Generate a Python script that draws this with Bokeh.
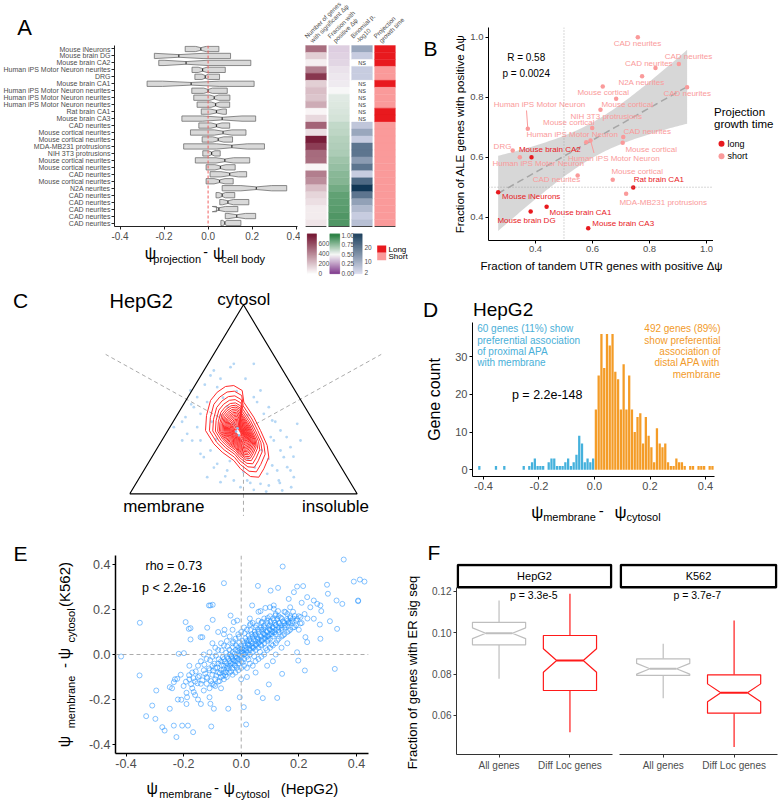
import numpy as np
from bokeh.plotting import figure
from bokeh.models import Range1d, FixedTicker, Span
from bokeh.layouts import row, column
from bokeh.embed import file_html
from bokeh.resources import INLINE
from bokeh.core.properties import value

FONT = "Liberation Sans"
G30 = "#4D4D4D"
LONG_C = "#E8191E"
SHORT_C = "#FA9A9A"

# ---------------- Panel A data ----------------
a_labels = ["Mouse iNeurons", "Mouse brain DG", "Mouse brain CA2", "Human iPS Motor Neuron neurites", "DRG",
            "Mouse brain CA1", "Human iPS Motor Neuron neurites", "Human iPS Motor Neuron neurites",
            "Human iPS Motor Neuron neurites", "Rat brain CA1", "Mouse brain CA3", "CAD neurites",
            "Mouse cortical neurites", "Mouse cortical neurites", "MDA-MB231 protrusions", "NIH 3T3 protrusions",
            "Mouse cortical neurites", "Mouse cortical neurites", "CAD neurites", "Mouse cortical neurites",
            "N2A neurites", "CAD neurites", "CAD neurites", "CAD neurites", "CAD neurites", "CAD neurites"]
a_q1 = [-0.104, -0.244, -0.224, -0.073, -0.060, -0.277, -0.074, -0.065, -0.050, -0.031, -0.119, -0.042, -0.080,
        -0.027, -0.111, -0.024, -0.058, -0.009, 0.009, -0.009, 0.064, 0.036, 0.053, 0.038, 0.078, 0.058]
a_med = [-0.033, -0.133, -0.100, -0.025, -0.013, -0.077, 0.000, 0.028, 0.034, 0.038, 0.064, 0.038, 0.068,
         0.046, 0.108, 0.016, 0.076, 0.056, 0.098, 0.052, 0.219, 0.064, 0.090, 0.049, 0.130, 0.076]
a_q3 = [0.049, 0.102, 0.194, 0.078, 0.052, 0.209, 0.087, 0.099, 0.098, 0.083, 0.216, 0.098, 0.172,
        0.111, 0.256, 0.055, 0.189, 0.123, 0.175, 0.114, 0.357, 0.121, 0.185, 0.135, 0.216, 0.149]
a_notch = [0.025, 0.11, 0.10, 0.02, 0.015, 0.13, 0.02, 0.02, 0.02, 0.03, 0.09, 0.025, 0.04,
           0.025, 0.07, 0.015, 0.04, 0.025, 0.04, 0.025, 0.07, 0.015, 0.025, 0.03, 0.04, 0.01]
a_n_genes = [450, 150, 50, 400, 620, 150, 200, 180, 260, 30, 120, 480, 100, 700, 600, 460, 450, 30, 400,
             350, 200, 130, 100, 60, 60, 80]
a_frac_pos = [0.40, 0.41, 0.42, 0.45, 0.46, 0.47, 0.50, 0.55, 0.56, 0.57, 0.58, 0.62, 0.63, 0.65, 0.66, 0.67,
              0.70, 0.72, 0.75, 0.76, 0.80, 0.84, 0.85, 0.86, 0.88, 0.88]
a_binom = [10, 4, None, 4, 4, None, None, None, None, None, None, 5, 10, 4, 18, 18, 12, 18, 4, 20, 28, 18,
           11, 7, 4, 6]
a_growth = ["long", "long", "long", "short", "short", "long", "short", "short", "short", "long", "long",
            "short", "short", "short", "short", "short", "short", "short", "short", "short", "short",
            "short", "short", "short", "short", "short"]
a_headers = [("Number of genes", "with significant \u0394\u03c8"), ("Fraction with", "positive \u0394\u03c8"),
             ("Binomial p,", "-log10"), ("Projection", "growth time")]

# ---------------- Panel B data ----------------
b_names = ["CAD neurites", "CAD neurites", "CAD neurites", "N2A neurites", "CAD neurites", "Mouse cortical",
           "Mouse cortical", "NIH 3T3 protrusions", "Human iPS Motor Neuron", "Mouse cortical",
           "Human iPS Motor Neuron", "Human iPS Motor Neuron", "CAD neurites", "Mouse cortical", "DRG",
           "Mouse brain CA2", "Human iPS Motor Neuron", "CAD neurites", "Mouse cortical", "Rat brain CA1",
           "MDA-MB231 protrusions", "Mouse iNeurons", "Mouse brain CA1", "Mouse brain DG", "Mouse brain CA3"]
b_x = [0.759, 0.821, 0.903, 0.774, 0.932, 0.636, 0.683, 0.628, 0.373, 0.599, 0.578, 0.593, 0.708, 0.706,
       0.320, 0.386, 0.345, 0.548, 0.671, 0.743, 0.718, 0.269, 0.439, 0.383, 0.585]
b_y = [1.000, 0.897, 0.911, 0.870, 0.833, 0.836, 0.795, 0.758, 0.695, 0.697, 0.650, 0.656, 0.667, 0.648,
       0.622, 0.600, 0.600, 0.539, 0.525, 0.499, 0.478, 0.483, 0.435, 0.419, 0.363]
b_group = ["short"] * 15 + ["long", "short", "short", "short", "long", "short", "long", "long", "long", "long"]
# label anchor positions (reference pixels, layout only)
b_label_pos = [(637, 42.7), (648.3, 62.7), (688, 55.5), (641, 81.7), (686.7, 92.7), (602.7, 91.7),
               (626.7, 104.3), (605.7, 115.7), (539, 104.3), (568.3, 121.7), (571.7, 134.3), (613.3, 157.7),
               (646.7, 131), (650.7, 149), (502, 146), (549.3, 149), (537.7, 163.3), (556, 179), (636.7, 171),
               (658.3, 179.3), (662.7, 202), (530.7, 196), (580, 211.7), (526, 220), (622.7, 223)]

# ---------------- Panel C data (ternary cartesian coords) ----------------
c_pts = [(0.2745, 0.244), (0.2525, 0.2749), (0.355, 0.542), (0.399, 0.527), (0.443, 0.58), (0.509, 0.527),
         (0.5455, 0.5955), (0.5895, 0.3665), (0.6265, 0.3358), (0.6335, 0.2442), (0.663, 0.29),
         (0.6775, 0.1677), (0.707, 0.1067), (0.7215, 0.076), (0.6555, 0.0609), (0.6705, 0.0151),
         (0.6045, 0.0916), (0.575, 0.0458), (0.487, 0.0302), (0.4575, 0.0609), (0.3845, 0.1374),
         (0.3256, 0.1677), (0.311, 0.1832), (0.355, 0.1984), (0.2305, 0.2442), (0.1936, 0.3051),
         (0.311, 0.3665), (0.2965, 0.4425), (0.267, 0.4732), (0.3845, 0.4883), (0.751, 0.2442),
         (0.7365, 0.3207), (0.5455, 0.4425), (0.575, 0.4732), (0.6115, 0.3967), (0.3405, 0.076),
         (0.399, 0.0531), (0.5455, 0.0183), (0.6485, 0.1067), (0.6925, 0.1218), (0.4575, 0.5955),
         (0.3696, 0.5648), (0.2816, 0.3967), (0.245, 0.3509), (0.2965, 0.3051), (0.311, 0.2442),
         (0.4285, 0.1067), (0.5165, 0.0609), (0.6115, 0.038), (0.6265, 0.1296), (0.663, 0.1984),
         (0.707, 0.2135), (0.4725, 0.3051), (0.465, 0.2749), (0.487, 0.2442), (0.4575, 0.3207),
         (0.52, 0.16), (0.55, 0.12), (0.43, 0.40), (0.40, 0.36), (0.36, 0.33), (0.58, 0.20), (0.62, 0.26),
         (0.50, 0.10), (0.44, 0.15), (0.34, 0.42), (0.56, 0.42), (0.61, 0.16), (0.47, 0.47), (0.41, 0.44),
         (0.52, 0.36), (0.38, 0.25), (0.66, 0.05), (0.71, 0.03), (0.60, 0.01), (0.33, 0.50), (0.27, 0.41),
         (0.23, 0.33), (0.69, 0.26), (0.72, 0.17), (0.64, 0.33), (0.53, 0.05), (0.42, 0.08), (0.37, 0.12)]
c_contour = [(0.4575, 0.4960), (0.4945, 0.4732), (0.5015, 0.4196), (0.5455, 0.3509), (0.5750, 0.2900),
             (0.6045, 0.2213), (0.6115, 0.1677), (0.5895, 0.1145), (0.5675, 0.0760), (0.5310, 0.0792),
             (0.4870, 0.1145), (0.4575, 0.1525), (0.4065, 0.1906), (0.3696, 0.2290), (0.3330, 0.2900),
             (0.3374, 0.3587), (0.3550, 0.4274), (0.3845, 0.4654), (0.4210, 0.4915)]
c_levels = [1.0, 0.88, 0.78, 0.70, 0.63, 0.58, 0.54, 0.50, 0.465, 0.43, 0.40, 0.37, 0.34, 0.31, 0.28,
            0.255, 0.23, 0.205, 0.18, 0.155, 0.13, 0.105, 0.08]
c_peak = (0.478, 0.281)

# ---------------- Panel D data ----------------
d_neg_x = [-0.415, -0.355, -0.325, -0.255, -0.235, -0.225, -0.215, -0.205, -0.195, -0.185, -0.165, -0.155,
           -0.145, -0.135, -0.125, -0.115, -0.105, -0.095, -0.085, -0.075, -0.065, -0.055, -0.045, -0.035,
           -0.025, -0.015, -0.005]
d_neg_n = [1, 1, 1, 1, 1, 2, 3, 1, 1, 1, 2, 3, 3, 1, 1, 1, 2, 3, 1, 2, 4, 9, 7, 2, 3, 2, 3]
d_pos_x = [0.005, 0.015, 0.025, 0.035, 0.045, 0.055, 0.065, 0.075, 0.085, 0.095, 0.105, 0.115, 0.125,
           0.135, 0.145, 0.155, 0.165, 0.175, 0.185, 0.195, 0.205, 0.215, 0.225, 0.235, 0.245, 0.255,
           0.265, 0.275, 0.285, 0.295, 0.305, 0.315, 0.325, 0.345, 0.355, 0.375, 0.385, 0.395, 0.415, 0.425]
d_pos_n = [16, 25, 36, 27, 36, 33, 36, 26, 24, 16, 28, 16, 25, 16, 10, 14, 15, 7, 14, 9, 6, 2, 11, 7, 6, 7,
           2, 1, 1, 3, 2, 2, 1, 1, 1, 1, 1, 1, 1, 1]

# ---------------- Panel E data ----------------
e_points = [
    (0.356, 0.422), (0.144, 0.391), (-0.060, 0.317), (0.058, 0.305), (0.128, 0.296), (0.102, 0.284),
    (0.194, 0.302), (0.215, 0.304), (0.298, 0.310), (0.391, 0.324), (0.412, 0.333), (0.428, 0.324),
    (0.406, 0.240), (0.351, 0.225), (0.301, 0.270), (0.165, 0.247), (0.183, 0.277), (0.229, 0.255),
    (0.252, 0.240), (0.264, 0.225), (0.275, 0.218), (0.331, 0.240), (0.038, 0.218), (-0.112, 0.218),
    (-0.099, 0.221), (0.067, 0.193), (0.113, 0.203), (0.128, 0.193), (-0.014, 0.151), (-0.099, 0.154),
    (-0.193, 0.144), (-0.352, 0.141), (-0.182, 0.114), (-0.118, 0.119), (-0.058, 0.110), (0.333, 0.114),
    (0.308, 0.148), (0.275, 0.070), (-0.135, 0.077), (-0.176, 0.067), (-0.417, -0.009), (-0.217, 0.003),
    (-0.199, 0.006), (-0.353, -0.093), (-0.295, -0.160), (-0.309, -0.227), (-0.330, -0.274),
    (-0.298, -0.286), (-0.274, -0.323), (-0.266, -0.338), (-0.234, -0.316), (-0.225, -0.367),
    (-0.205, -0.316), (-0.185, -0.316), (-0.167, -0.345), (-0.104, -0.320), (0.017, -0.311),
    (-0.248, -0.241), (-0.248, -0.145), (-0.234, -0.123), (-0.222, -0.108), (-0.208, -0.201),
    (-0.188, -0.190), (-0.165, -0.167), (-0.107, -0.219), (-0.095, -0.241), (-0.045, -0.241),
    (0.009, -0.234), (-0.005, -0.190), (0.075, -0.194), (0.056, -0.167), (0.096, -0.133), (0.142, -0.086),
    (0.125, -0.193), (0.198, -0.027), (0.221, -0.071), (0.325, -0.064), (0.406, 0.237), (0.273, 0.133),
    (0.223, 0.077), (0.229, 0.055), (0.194, 0.010), (-0.141, 0.077), (-0.176, 0.117), (-0.107, 0.218),
    (-0.037, 0.173), (0.084, 0.207), (0.113, 0.218), (-0.026, 0.144), (0.032, 0.136), (0.165, 0.144),
    (0.119, 0.173), (0.154, 0.188), (0.206, 0.166), (0.252, 0.159), (0.278, 0.193),
    (-0.20, -0.14), (-0.19, -0.17), (-0.18, -0.11), (-0.17, -0.15), (-0.17, -0.08), (-0.16, -0.12),
    (-0.16, -0.18), (-0.15, -0.10), (-0.15, -0.05), (-0.14, -0.13), (-0.14, -0.03), (-0.13, -0.07),
    (-0.13, -0.16), (-0.12, -0.02), (-0.12, -0.13), (-0.11, 0.01), (-0.11, -0.15), (-0.10, -0.01),
    (-0.10, -0.13), (-0.09, 0.03), (-0.09, -0.14), (-0.08, 0.02), (-0.08, -0.12), (-0.07, 0.05),
    (-0.06, 0.04), (-0.06, -0.11), (-0.05, 0.06), (-0.05, -0.10), (-0.04, 0.08), (-0.03, 0.05),
    (-0.03, -0.09), (-0.02, 0.07), (-0.02, -0.08), (-0.01, 0.09), (-0.01, -0.07), (0.00, 0.10),
    (0.00, -0.06), (0.01, 0.12), (0.01, -0.05), (0.02, 0.11), (0.02, -0.06), (0.03, 0.13), (0.03, -0.04),
    (0.04, 0.14), (0.04, -0.05), (0.05, 0.12), (0.05, -0.03), (0.06, 0.15), (0.06, -0.02), (0.07, 0.14),
    (0.07, -0.01), (0.08, 0.16), (0.08, 0.00), (0.09, 0.15), (0.09, 0.02), (0.10, 0.17), (0.10, 0.03),
    (0.11, 0.16), (0.11, 0.04), (0.12, 0.18), (0.12, 0.05), (0.13, 0.17), (0.13, 0.07), (0.14, 0.16),
    (0.14, 0.08), (0.15, 0.19), (0.15, 0.09), (0.16, 0.18), (0.16, 0.10), (0.17, 0.17), (0.17, 0.11),
    (0.18, 0.19), (0.19, 0.15), (0.19, 0.13), (0.20, 0.17), (0.21, 0.14), (0.22, 0.18), (0.23, 0.16),
    (-0.21, -0.09), (-0.22, -0.20), (-0.19, -0.22), (-0.18, -0.05), (-0.15, -0.20), (-0.13, 0.00),
    (-0.10, 0.05), (-0.07, -0.15), (0.02, -0.10), (0.05, -0.08), (0.09, -0.05), (0.12, 0.00), (0.14, 0.03),
    (-0.06, 0.09), (-0.03, 0.11), (0.03, 0.16), (0.06, 0.19), (0.10, 0.21), (0.20, 0.11), (0.24, 0.21),
    (0.21, 0.23), (-0.24, -0.15), (-0.23, -0.11), (0.11, -0.03), (0.16, 0.05), (-0.08, 0.10),
    (-0.14, -0.22), (-0.11, -0.19), (0.00, -0.11), (0.17, 0.21),
    (-0.12, -0.10), (-0.11, -0.07), (-0.10, -0.09), (-0.10, -0.05), (-0.09, -0.11), (-0.09, -0.06),
    (-0.08, -0.04), (-0.08, -0.08), (-0.07, -0.03), (-0.07, -0.07), (-0.07, -0.10), (-0.06, -0.05),
    (-0.06, -0.02), (-0.06, -0.08), (-0.05, -0.04), (-0.05, -0.01), (-0.05, -0.06), (-0.04, -0.03),
    (-0.04, 0.00), (-0.04, -0.05), (-0.04, -0.08), (-0.03, -0.02), (-0.03, 0.01), (-0.03, -0.04),
    (-0.03, -0.06), (-0.02, -0.01), (-0.02, 0.02), (-0.02, -0.03), (-0.02, -0.05), (-0.01, 0.00),
    (-0.01, 0.03), (-0.01, -0.02), (-0.01, -0.04), (0.00, 0.01), (0.00, 0.04), (0.00, -0.01),
    (0.00, -0.03), (0.01, 0.02), (0.01, 0.05), (0.01, 0.00), (0.01, -0.02), (0.02, 0.03), (0.02, 0.01),
    (0.02, 0.06), (0.02, -0.01), (0.03, 0.04), (0.03, 0.02), (0.03, 0.07), (0.03, 0.00), (0.04, 0.05),
    (0.04, 0.03), (0.04, 0.08), (0.04, 0.01), (0.05, 0.06), (0.05, 0.04), (0.05, 0.09), (0.05, 0.02),
    (0.06, 0.07), (0.06, 0.05), (0.06, 0.10), (0.06, 0.03), (0.07, 0.08), (0.07, 0.06), (0.07, 0.11),
    (0.07, 0.04), (0.08, 0.09), (0.08, 0.07), (0.08, 0.12), (0.08, 0.05), (0.09, 0.10), (0.09, 0.08),
    (0.09, 0.06), (0.10, 0.11), (0.10, 0.09), (0.10, 0.13), (0.10, 0.07), (0.11, 0.10), (0.11, 0.12),
    (0.11, 0.08), (0.12, 0.11), (0.12, 0.13), (0.12, 0.09), (0.13, 0.12), (0.13, 0.14), (0.13, 0.10),
    (0.14, 0.13), (0.14, 0.11), (0.15, 0.14), (0.15, 0.12), (0.16, 0.13), (0.16, 0.15), (0.17, 0.14),
    (0.18, 0.16), (0.18, 0.12),
    (-0.135, -0.115), (-0.125, -0.085), (-0.118, -0.105), (-0.112, -0.062), (-0.105, -0.118),
    (-0.098, -0.072), (-0.093, -0.041), (-0.087, -0.094), (-0.083, -0.058), (-0.078, -0.021),
    (-0.074, -0.083), (-0.069, -0.046), (-0.064, -0.012), (-0.061, -0.067), (-0.057, -0.031),
    (-0.052, 0.008), (-0.048, -0.052), (-0.045, -0.018), (-0.041, 0.021), (-0.037, -0.039),
    (-0.034, -0.007), (-0.029, 0.032), (-0.026, -0.026), (-0.022, 0.004), (-0.018, 0.041),
    (-0.015, -0.015), (-0.011, 0.016), (-0.007, 0.052), (-0.004, -0.004), (0.002, 0.027), (0.005, 0.061),
    (0.008, 0.008), (0.012, 0.038), (0.015, 0.072), (0.018, 0.019), (0.022, 0.048), (0.026, 0.084),
    (0.029, 0.027), (0.033, 0.058), (0.036, 0.091), (0.039, 0.036), (0.043, 0.067), (0.047, 0.102),
    (0.051, 0.045), (0.054, 0.077), (0.058, 0.112), (0.062, 0.055), (0.065, 0.086), (0.069, 0.121),
    (0.072, 0.064), (0.076, 0.095), (0.079, 0.128), (0.083, 0.073), (0.087, 0.104), (0.091, 0.138),
    (0.094, 0.082), (0.098, 0.113), (0.102, 0.146), (0.106, 0.091), (0.109, 0.122), (0.113, 0.152),
    (0.117, 0.099), (0.121, 0.131), (0.125, 0.158), (0.129, 0.108), (0.133, 0.139), (0.137, 0.164),
    (0.141, 0.118), (0.145, 0.147), (0.152, 0.129), (0.158, 0.157), (0.164, 0.139), (0.171, 0.162),
    (0.178, 0.148), (0.186, 0.171), (0.194, 0.158), (-0.145, -0.095), (-0.152, -0.128), (-0.158, -0.075),
    (-0.166, -0.105), (-0.174, -0.132), (-0.181, -0.092), (-0.192, -0.121), (-0.128, -0.045),
    (-0.108, -0.025), (-0.088, -0.005), (-0.068, 0.018), (-0.048, 0.035), (-0.028, 0.058), (-0.008, 0.078),
    (0.012, 0.095), (0.032, 0.108), (0.052, 0.128), (0.072, 0.145), (0.092, 0.162), (-0.095, -0.135),
    (-0.075, -0.118), (-0.055, -0.092), (-0.035, -0.075), (-0.015, -0.058), (0.005, -0.035),
    (0.025, -0.022), (0.045, -0.008), (0.065, 0.012), (0.085, 0.028), (0.105, 0.045), (0.125, 0.062),
    (0.145, 0.085), (0.165, 0.105), (0.185, 0.122), (0.205, 0.138), (0.003, 0.012), (0.013, 0.003),
    (0.023, 0.043), (0.043, 0.031), (0.057, 0.065), (0.067, 0.043), (0.083, 0.087), (0.093, 0.066),
    (0.107, 0.104), (-0.013, -0.028), (-0.023, -0.048), (-0.043, -0.063), (-0.053, -0.078),
    (-0.063, -0.095), (-0.033, -0.012), (-0.003, 0.024), (0.027, 0.062), (0.047, 0.088), (0.077, 0.112),
    (0.097, 0.126), (0.117, 0.141)]

# ---------------- Panel F data ----------------
f_cats = ["All genes", "Diff Loc genes"]
f_hep = dict(lower=[0.0778, 0.0519], q1=[0.0942, 0.0721], med=[0.0998, 0.0866], q3=[0.1051, 0.0987],
             upper=[0.1156, 0.1189], notch=[0.0026, 0.0057])
f_k562 = dict(lower=[0.0684, 0.0447], q1=[0.0794, 0.0611], med=[0.0826, 0.0710], q3=[0.0874, 0.0797],
              upper=[0.0947, 0.1060], notch=[0.0026, 0.0043])
f_colors = ["#BEBEBE", "#FF1A1A"]


# ---------------- helpers ----------------
def no_align(p):
    try:
        p.frame_align = False
    except Exception:
        pass


def make_fig(w, h, xr, yr, bl, br, bt, bb, axes=True):
    kw = {}
    if not axes:
        kw = dict(x_axis_location=None, y_axis_location=None)
    p = figure(width=w, height=h, x_range=Range1d(*xr), y_range=Range1d(*yr), output_backend="svg",
               toolbar_location=None, min_border_left=bl, min_border_right=br, min_border_top=bt,
               min_border_bottom=bb, **kw)
    p.outline_line_color = None
    p.grid.visible = False
    no_align(p)
    return p


def text_fig(X0, Y0, X1, Y1):
    # a text-only panel whose ranges follow the page layout (y grows downward)
    return make_fig(X1 - X0, Y1 - Y0, (X0, X1), (Y1, Y0), 0, 0, 0, 0, axes=False)


def conv(fr, xr, yr):
    fx0, fy0, fx1, fy1 = fr
    def f(X, Y):
        return (xr[0] + (X - fx0) * (xr[1] - xr[0]) / (fx1 - fx0),
                yr[1] - (Y - fy0) * (yr[1] - yr[0]) / (fy1 - fy0))
    return f


def tx(p, x, y, text, size, color="black", align="center", baseline="middle", angle=0.0, font=FONT):
    p.text(x=[x], y=[y], text=[text], text_font=value(font), text_font_size=value(f"{size}px"),
           text_color=color, text_align=align, text_baseline=baseline, angle=angle)


def style_axis(ax, size, ticks, labels=None, line="black", lw=1.0):
    ax.ticker = FixedTicker(ticks=ticks)
    ax.axis_line_color = line
    ax.axis_line_width = lw
    ax.major_tick_line_color = line
    ax.major_tick_in = 0
    ax.major_tick_out = 3
    ax.minor_tick_line_color = None
    ax.major_label_text_font = FONT
    ax.major_label_text_font_size = f"{size}px"
    ax.major_label_text_color = G30
    ax.major_label_standoff = 2
    ax.axis_label_text_font = FONT
    ax.axis_label_text_font_style = "normal"
    ax.axis_label_text_color = "black"
    if labels is not None:
        ax.major_label_overrides = {t: l for t, l in zip(ticks, labels)}


def hex2rgb(h):
    return tuple(int(h[i:i + 2], 16) for i in (1, 3, 5))


def mix(c1, c2, t):
    a, b = hex2rgb(c1), hex2rgb(c2)
    t = min(max(t, 0.0), 1.0)
    return "#%02x%02x%02x" % tuple(int(round(a[i] + (b[i] - a[i]) * t)) for i in range(3))


def col_num(v):
    return mix("#FFFFFF", "#67001F", v / 790.0)


def col_frac(v):
    if v >= 0.5:
        return mix("#F7F7F7", "#1B7837", (v - 0.5) / 0.5)
    return mix("#F7F7F7", "#762A83", (0.5 - v) / 0.5)


def col_binom(v):
    if v is None:
        return "#FFFFFF"
    return mix("#DCDDEF", "#08304F", (v - 1.3) / (29.2 - 1.3))


def tick_lbl(ts):
    return [("%.1f" % t) for t in ts]


# ================= Panel A =================
fA_top = text_fig(0, 0, 300, 45)
tx(fA_top, 24, 27, "A", 22)

xrA, yrA = (-0.425, 0.406), (0.5, 26.5)
fA = make_fig(300, 197, xrA, yrA, 110, 3, 0, 16)
style_axis(fA.xaxis[0], 10, [-0.4, -0.2, 0.0, 0.2, 0.4], tick_lbl([-0.4, -0.2, 0.0, 0.2, 0.4]), line="#222222")
rows_y = [26 - i for i in range(26)]
style_axis(fA.yaxis[0], 7, rows_y, a_labels, line="#222222")
fA.yaxis[0].major_label_standoff = 1
fA.add_layout(Span(location=0, dimension="height", line_color="#F06060", line_dash="3 2", line_width=1))
hh = 0.38
bxs, bys = [], []
for q1, md, q3, n, y in zip(a_q1, a_med, a_q3, a_notch, rows_y):
    bxs.append([q1, md - n, md, md + n, q3, q3, md + n, md, md - n, q1])
    bys.append([y + hh, y + hh, y + hh / 2, y + hh, y + hh, y - hh, y - hh, y - hh / 2, y - hh, y - hh])
fA.patches(bxs, bys, fill_color="#D9D9D9", line_color="#6E6E6E", line_width=0.8)
fA.segment(x0=a_med, y0=[y - hh / 2 for y in rows_y], x1=a_med, y1=[y + hh / 2 for y in rows_y],
           line_color="#333333", line_width=1.2)

fA_bot = text_fig(0, 242, 300, 283)
tx(fA_bot, 150, 252.5, "\u03c8", 16)
tx(fA_bot, 176.7, 258, "projection", 11)
tx(fA_bot, 205, 251.5, "-", 14)
tx(fA_bot, 218.3, 252.5, "\u03c8", 16)
tx(fA_bot, 242.8, 258, "cell body", 11)

# ================= Panel A: heatmap + legends =================
xrH, yrH = (-4 / 23, 146 / 23), (-7.6878, 32.9641)
frH = (300, 0, 450, 283)
fH = make_fig(150, 283, xrH, yrH, 0, 0, 0, 0, axes=False)
cvH = conv(frH, xrH, yrH)
cols_x, cols_y, cols_c = [], [], []
for i in range(26):
    y = rows_y[i]
    vals = [col_num(a_n_genes[i]), col_frac(a_frac_pos[i]), col_binom(a_binom[i]),
            LONG_C if a_growth[i] == "long" else SHORT_C]
    for c in range(4):
        cols_x.append(c + 0.5)
        cols_y.append(y)
        cols_c.append(vals[c])
fH.rect(x=cols_x, y=cols_y, width=0.9, height=1.0, fill_color=cols_c, line_color=cols_c, line_width=0.4)
fH.segment(x0=[c + 0.05 for c in range(4)], y0=[0.5] * 4, x1=[c + 0.95 for c in range(4)], y1=[0.5] * 4,
           line_color="#444444", line_width=1)
ns_y = [rows_y[i] for i in range(26) if a_binom[i] is None]
fH.text(x=[2.5] * len(ns_y), y=ns_y, text=["NS"] * len(ns_y), text_font=value(FONT),
        text_font_size=value("5.5px"), text_color="#333333", text_align="center", text_baseline="middle")
for c, (l1, l2) in enumerate(a_headers):
    cx = 315.5 + 23 * c
    tx(fH, *cvH(cx - 8, 39), l1, 6.3, G30, "left", "bottom", np.pi / 4)
    tx(fH, *cvH(cx - 2.5, 43.5), l2, 6.3, G30, "left", "bottom", np.pi / 4)


def colorbar(X0, X1, Ytop, Ybot, cfun):
    n = 40
    l, r, t, b, cs = [], [], [], [], []
    for k in range(n):
        Ya = Ybot - (Ybot - Ytop) * k / n
        Yb = Ybot - (Ybot - Ytop) * (k + 1) / n
        xa, ya = cvH(X0, Ya)
        xb, yb = cvH(X1, Yb)
        l.append(xa); r.append(xb); b.append(ya); t.append(yb)
        cs.append(cfun((Ya + Yb) / 2))
    fH.quad(left=l, right=r, bottom=b, top=t, fill_color=cs, line_color=cs, line_width=0.3)


colorbar(306.7, 316, 233.3, 273.3, lambda Y: col_num((273.3 - Y) * 20))
colorbar(329.3, 339.3, 233.3, 273.3, lambda Y: col_frac((272.7 - Y) / 37.7))
colorbar(352.7, 361.7, 233.3, 273.3, lambda Y: col_binom(2 + (272.3 - Y) / 1.433))
for t, Y in zip(["600", "400", "200", "0"], [242.7, 252.7, 263, 273]):
    tx(fH, *cvH(318, Y), t, 6.5, G30, "left")
for t, Y in zip(["1.00", "0.75", "0.50", "0.25", "0.00"], [235, 244.4, 253.9, 263.3, 272.7]):
    tx(fH, *cvH(341, Y), t, 6.5, G30, "left")
for t, Y in zip(["20", "10", "2"], [246.7, 261, 272.3]):
    tx(fH, *cvH(364, Y), t, 6.5, G30, "left")
qa = cvH(376.7, 245); qb = cvH(385.7, 252.3); qc = cvH(385.7, 259.7)
fH.quad(left=[qa[0], qa[0]], right=[qb[0], qb[0]], top=[qa[1], qb[1]], bottom=[qb[1], qc[1]],
        fill_color=[LONG_C, SHORT_C], line_color=None)
tx(fH, *cvH(388, 248.7), "Long", 8, "black", "left")
tx(fH, *cvH(388, 256), "Short", 8, "black", "left")
tx(fH, *cvH(430, 48), "B", 21)

# ================= Panel B =================
xrB, yrB = (0.2351, 1.0246), (0.3223, 1.0323)
frB = (488, 27, 713, 240)
fB = make_fig(263, 257, xrB, yrB, 38, 0, 27, 17)
cvB = conv(frB, xrB, yrB)
style_axis(fB.xaxis[0], 9.5, [0.4, 0.6, 0.8, 1.0], tick_lbl([0.4, 0.6, 0.8, 1.0]))
style_axis(fB.yaxis[0], 9.5, [0.4, 0.6, 0.8, 1.0], tick_lbl([0.4, 0.6, 0.8, 1.0]))
fB.yaxis[0].axis_label = "Fraction of ALE genes with positive \u0394\u03c8"
fB.yaxis[0].axis_label_text_font_size = "11.5px"
fB.yaxis[0].axis_label_standoff = 1
bx = np.array(b_x); by = np.array(b_y)
n = len(bx)
slope, icpt = np.polyfit(bx, by, 1)
res = by - (slope * bx + icpt)
s = np.sqrt(np.sum(res ** 2) / (n - 2))
xm = bx.mean(); sxx = np.sum((bx - xm) ** 2)
gx = np.linspace(bx.min(), bx.max(), 80)
gy = slope * gx + icpt
se = s * np.sqrt(1.0 / n + (gx - xm) ** 2 / sxx)
tcrit = 2.069
fB.varea(x=gx, y1=gy - tcrit * se, y2=gy + tcrit * se, fill_color="#BDBDBD", fill_alpha=0.6)
fB.line(gx, gy, line_color="#A6A6A6", line_dash="7 4", line_width=1.5)
fB.add_layout(Span(location=0.5, dimension="height", line_color="#9A9A9A", line_dash="1 2", line_width=0.8))
fB.add_layout(Span(location=0.5, dimension="width", line_color="#9A9A9A", line_dash="1 2", line_width=0.8))
bcol = [LONG_C if g == "long" else SHORT_C for g in b_group]
fB.scatter(b_x, b_y, size=4.5, fill_color=bcol, line_color=None)
lpx, lpy = [], []
for X, Y in b_label_pos:
    x, y = cvB(X, Y)
    lpx.append(x); lpy.append(y)
fB.text(x=lpx, y=lpy, text=b_names, text_color=bcol, text_font=value(FONT), text_font_size=value("8px"),
        text_align="center", text_baseline="middle")
for i, (X, Y) in [(8, (526, 110)), (11, (593.5, 152.5))]:
    x1, y1 = cvB(X, Y)
    fB.segment(x0=[b_x[i]], y0=[b_y[i]], x1=[x1], y1=[y1], line_color=SHORT_C, line_width=1)
tx(fB, *cvB(525.7, 57.3), "R = 0.58", 10)
tx(fB, *cvB(525.7, 72.7), "p = 0.0024", 10)

fB_leg = text_fig(713, 0, 778, 257)
tx(fB_leg, 713.5, 111.7, "Projection", 11.5, "black", "left")
tx(fB_leg, 713.5, 123.3, "growth time", 11.5, "black", "left")
fB_leg.scatter([721, 721], [143.3, 155.7], size=6, fill_color=[LONG_C, SHORT_C], line_color=None)
tx(fB_leg, 727, 143.3, "long", 9, "black", "left")
tx(fB_leg, 727, 155.7, "short", 9, "black", "left")

fB_bot = text_fig(450, 257, 778, 283)
tx(fB_bot, 601, 265, "Fraction of tandem UTR genes with positive \u0394\u03c8", 11.5)

# ================= Panel C =================
xrC, yrC = (-0.5689, 1.1469), (-0.2139, 0.9634)
frC = (0, 283, 390, 540)
fC = make_fig(390, 257, xrC, yrC, 0, 0, 0, 0, axes=False)
cvC = conv(frC, xrC, yrC)
H3 = 0.866
cen = (0.5, H3 / 3)
for dx, dy, t in [(-0.866, 0.5, 0.7), (0.866, 0.5, 0.7), (0.0, -1.0, 0.39)]:
    fC.line([cen[0], cen[0] + dx * t], [cen[1], cen[1] + dy * t], line_color="#ABABAB", line_dash="4 3",
            line_width=1)
fC.scatter([p[0] for p in c_pts], [p[1] for p in c_pts], size=2.8, fill_color="#9CC9F2", line_color=None,
           fill_alpha=0.75)
cu = [p[0] for p in c_contour] + [c_contour[0][0]]
cvv = [p[1] for p in c_contour] + [c_contour[0][1]]
mxs, mys = [], []
for s_ in c_levels:
    mxs.append([c_peak[0] + (u - c_peak[0]) * s_ for u in cu])
    mys.append([c_peak[1] + (v - c_peak[1]) * s_ for v in cvv])
fC.multi_line(mxs, mys, line_color="#FF2A2A", line_width=1)
fC.scatter([0.474, 0.468, 0.480], [0.300, 0.285, 0.268], size=2.5, fill_color="#8EC3F0", line_color=None)
fC.line([0, 1, 0.5, 0], [0, 0, H3, 0], line_color="black", line_width=1.2)
tx(fC, *cvC(243.3, 299), "cytosol", 17)
tx(fC, *cvC(163.3, 506), "membrane", 17)
tx(fC, *cvC(335, 506), "insoluble", 17)
tx(fC, *cvC(140.7, 300), "HepG2", 20)
tx(fC, *cvC(20, 300), "C", 21)

# ================= Panel D =================
fD_top = text_fig(390, 283, 778, 322)
tx(fD_top, 430, 309, "D", 21)
tx(fD_top, 472.5, 309, "HepG2", 19, "black", "left")

xrD, yrD = (-0.4396, 0.6630), (-1.777, 39.07)
frD = (472, 322, 778, 476)
fD = make_fig(388, 178, xrD, yrD, 82, 0, 0, 24)
cvD = conv(frD, xrD, yrD)
dt = [-0.4, -0.2, 0.0, 0.2, 0.4]
style_axis(fD.xaxis[0], 11, dt, tick_lbl(dt))
fD.xaxis[0].bounds = (-0.4396, 0.4324)
style_axis(fD.yaxis[0], 11, [0, 10, 20, 30], ["0", "10", "20", "30"])
fD.yaxis[0].axis_label = "Gene count"
fD.yaxis[0].axis_label_text_font_size = "16px"
fD.yaxis[0].axis_label_standoff = 9
fD.vbar(x=d_neg_x, top=d_neg_n, bottom=0, width=0.0082, fill_color="#45B1DC", line_color=None)
fD.vbar(x=d_pos_x, top=d_pos_n, bottom=0, width=0.0082, fill_color="#F49C27", line_color=None)
for t, Y in zip(["60 genes (11%) show", "preferential association", "of proximal APA", "with membrane"],
                [328.3, 339.7, 351, 362.3]):
    tx(fD, *cvD(476.7, Y), t, 10, "#4AAFD8", "left")
for t, Y in zip(["492 genes (89%)", "show preferential", "association of", "distal APA with", "membrane"],
                [328.3, 339.7, 351, 362.3, 373.7]):
    tx(fD, *cvD(720, Y), t, 10, "#F29A2A", "right")
tx(fD, *cvD(546.7, 394.3), "p = 2.2e-148", 12.5)

fD_bot = text_fig(390, 500, 778, 540)
tx(fD_bot, 536.7, 512, "\u03c8", 17)
tx(fD_bot, 569, 516.5, "membrane", 11)
tx(fD_bot, 600.7, 510.5, "-", 15)
tx(fD_bot, 620, 512, "\u03c8", 17)
tx(fD_bot, 643, 516.5, "cytosol", 11)

# ================= Panel E =================
fE_left = text_fig(0, 540, 80, 801)
tx(fE_left, 20, 553, "E", 21)
for X, Y, t, sz in [(64, 741, "\u03c8", 16), (70.5, 701.5, "membrane", 11), (64, 665, "-", 15),
                    (64, 653, "\u03c8", 16), (70.5, 625, "cytosol", 11), (64, 584, "(K562)", 15)]:
    tx(fE_left, X, Y, t, sz, angle=np.pi / 2)

xrE, yrE = (-0.4365, 0.4420), (-0.44, 0.44)
frE = (115, 555, 368, 753)
fE = make_fig(310, 238, xrE, yrE, 35, 22, 15, 25)
cvE = conv(frE, xrE, yrE)
style_axis(fE.xaxis[0], 12.5, dt, tick_lbl(dt), lw=1.5)
style_axis(fE.yaxis[0], 12.5, dt, tick_lbl(dt), lw=1.5)
fE.add_layout(Span(location=0, dimension="height", line_color="#ABABAB", line_dash="4 3", line_width=1))
fE.add_layout(Span(location=0, dimension="width", line_color="#ABABAB", line_dash="4 3", line_width=1))
fE.scatter([p[0] for p in e_points], [p[1] for p in e_points], size=5, fill_color=None,
           line_color="#1E90FF", line_alpha=0.6, line_width=0.9)
tx(fE, *cvE(173.3, 565), "rho = 0.73", 12.5)
tx(fE, *cvE(173.3, 587), "p < 2.2e-16", 12.5)

fE_bot = text_fig(80, 778, 390, 801)
for X, Y, t, sz in [(151.7, 788, "\u03c8", 16), (185, 793, "membrane", 11), (216, 787.5, "-", 15),
                    (228.7, 788, "\u03c8", 16), (252, 793, "cytosol", 11), (309, 788, "(HepG2)", 15)]:
    tx(fE_bot, X, Y, t, sz)

# ================= Panel F =================
fF_top = text_fig(390, 540, 778, 563)
tx(fF_top, 433.3, 552, "F", 21)
fF_ylab = text_fig(390, 563, 425, 801)
tx(fF_ylab, 412, 672, "Fraction of genes with ER sig seq", 13, angle=np.pi / 2)


def facet(w, bl, br, fr, xr, data, strip_text, ptext, pX, show_y):
    yr = (0.04113, 0.13354)
    f = make_fig(w, 238, xr, yr, bl, br, 0, 47)
    cv = conv(fr, xr, yr)
    style_axis(f.xaxis[0], 10, [1, 2], f_cats, line="#333333")
    if show_y:
        style_axis(f.yaxis[0], 10, [0.06, 0.08, 0.10, 0.12], ["0.06", "0.08", "0.10", "0.12"], line="#333333")
        f.yaxis[0].bounds = (0.04113, 0.1221)
    else:
        f.yaxis[0].visible = False
    hw = 0.375
    for k in range(2):
        c = k + 1
        q1, md, q3, nn = data["q1"][k], data["med"][k], data["q3"][k], data["notch"][k]
        col = f_colors[k]
        f.segment(x0=[c, c], y0=[q3, data["lower"][k]], x1=[c, c], y1=[data["upper"][k], q1],
                  line_color=col, line_width=1.2)
        f.patch([c - hw, c - hw, c - hw / 2, c - hw, c - hw, c + hw, c + hw, c + hw / 2, c + hw, c + hw],
                [q1, md - nn, md, md + nn, q3, q3, md + nn, md, md - nn, q1],
                fill_color="white", line_color=col, line_width=1.2)
        f.segment(x0=[c - hw / 2], y0=[md], x1=[c + hw / 2], y1=[md], line_color=col, line_width=2)
    sx0, _ = cv(fr[0] + 1.3, 0)
    sx1, _ = cv(fr[2] - 1.3, 0)
    _, sy0 = cv(0, 586.7)
    _, sy1 = cv(0, 564.4)
    f.quad(left=[sx0], right=[sx1], bottom=[sy0], top=[sy1], fill_color="white", line_color="black",
           line_width=2.5)
    tx(f, (sx0 + sx1) / 2, (sy0 + sy1) / 2, strip_text, 11)
    tx(f, *cv(pX, 594.7), ptext, 10.5)
    return f


fF1 = facet(190, 31, 3, (456, 563, 612, 754), (0.4, 2.6), f_hep, "HepG2", "p = 3.3e-5", 533.3, True)
fF2 = facet(163, 4, 1, (619, 563, 777, 754), (0.3836, 2.6121), f_k562, "K562", "p = 3.7e-7", 696.7, False)

layout = column(
    row(column(fA_top, fA, fA_bot), fH, column(row(fB, fB_leg), fB_bot)),
    row(fC, column(fD_top, fD, fD_bot)),
    row(fE_left, column(fE, fE_bot), column(fF_top, row(fF_ylab, fF1, fF2))),
)
open("out.html", "w").write(file_html(layout, INLINE))
